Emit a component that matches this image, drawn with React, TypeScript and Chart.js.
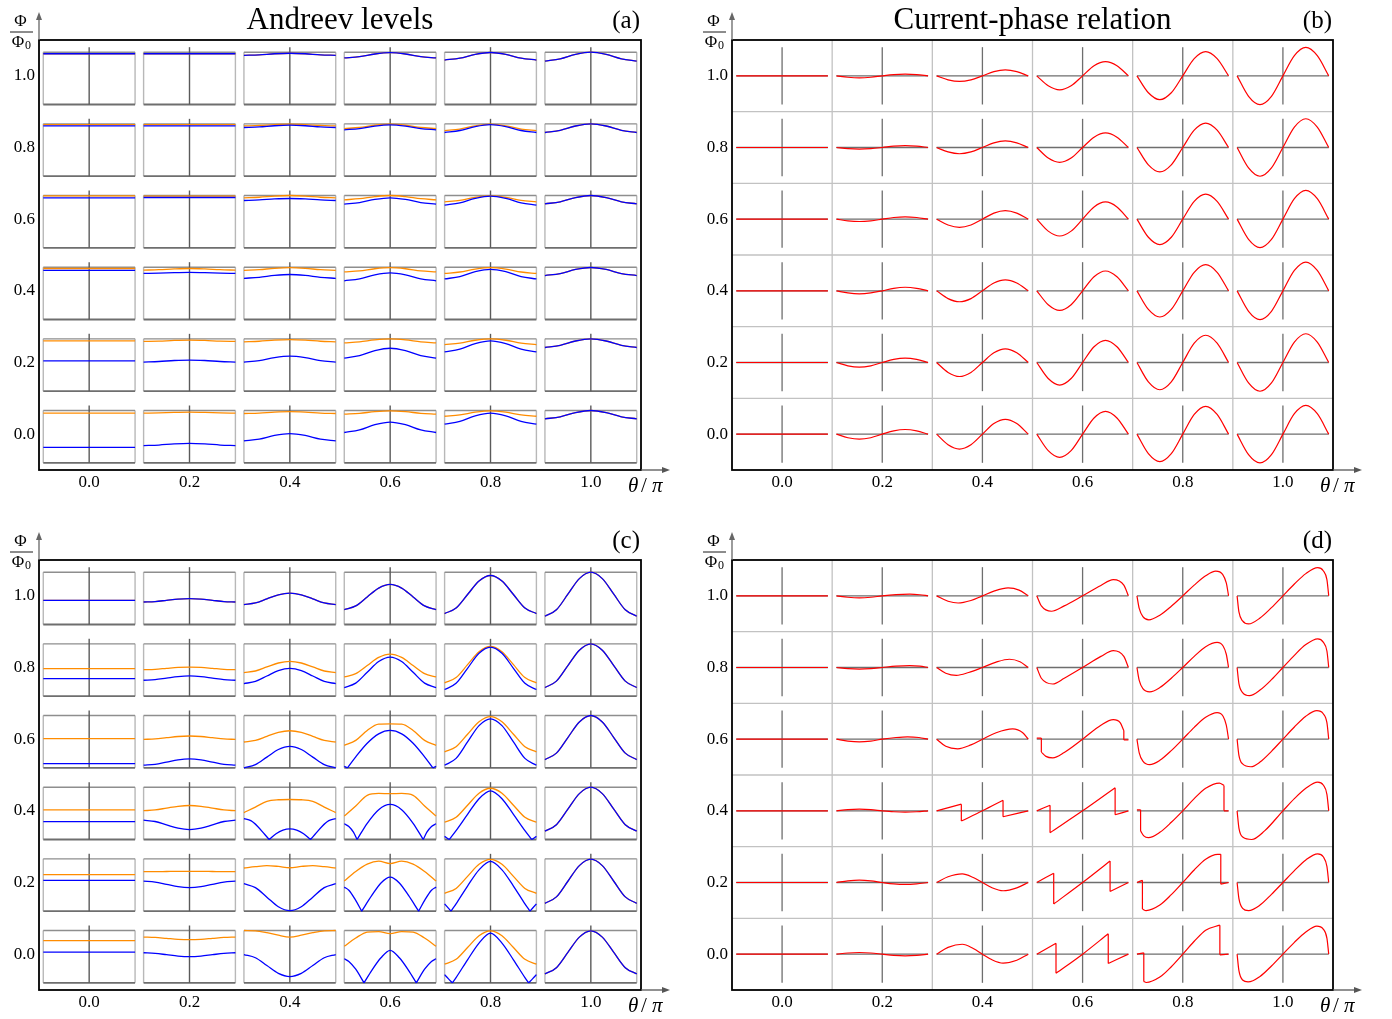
import React, { useEffect, useRef } from 'react';
import { Chart, registerables } from 'chart.js';

Chart.register(...registerables);

// ---------------- data ----------------
const THETA = [0, 0.2, 0.4, 0.6, 0.8, 1.0];          // cell centres, θ/π
const PHI_ROWS = [1.0, 0.8, 0.6, 0.4, 0.2, 0.0];     // cell centres, Φ/Φ0 (top row first)
const TICK_VALUES = [0, 0.2, 0.4, 0.6, 0.8, 1.0];
const GRID_LINES = [0.1, 0.3, 0.5, 0.7, 0.9];
const U7 = [-1, -2 / 3, -1 / 3, 0, 1 / 3, 2 / 3, 1];  // phase samples across a cell
const U9 = [-1, -0.75, -0.5, -0.25, 0, 0.25, 0.5, 0.75, 1];

// (a) Andreev levels, % of box height, sampled on U7
const A_ORANGE = [
  [[97, 97, 97, 97, 97, 97, 97], [97, 97, 97, 97, 97, 97, 97], [94, 95, 97, 98, 97, 95, 94], [89, 91.5, 96.5, 99, 96.5, 91.5, 89], [85, 88.6, 95.8, 99.4, 95.8, 88.6, 85], [83, 87.3, 95.8, 100, 95.8, 87.3, 83]],
  [[98.7, 98.7, 98.7, 98.7, 98.7, 98.7, 98.7], [98.7, 98.7, 98.7, 98.7, 98.7, 98.7, 98.7], [96, 96.9, 98.6, 99.4, 98.6, 96.9, 96], [91, 93.1, 97.3, 99.4, 97.3, 93.1, 91], [87, 90.1, 96.3, 99.4, 96.3, 90.1, 87], [83.5, 87.6, 95.9, 100, 95.9, 87.6, 83.5]],
  [[99.5, 99.5, 99.5, 99.5, 99.5, 99.5, 99.5], [98.7, 98.7, 98.7, 98.7, 98.7, 98.7, 98.7], [95.6, 96.7, 98.9, 100, 98.9, 96.7, 95.6], [91.8, 93.9, 97.9, 100, 97.9, 93.9, 91.8], [88, 90.9, 96.6, 99.4, 96.6, 90.9, 88], [84, 88, 96, 100, 96, 88, 84]],
  [[97.5, 97.5, 97.5, 97.5, 97.5, 97.5, 97.5], [94.4, 95.2, 96.7, 97.5, 96.7, 95.2, 94.4], [94, 95.3, 97.8, 99, 97.8, 95.3, 94], [91, 93, 97, 99, 97, 93, 91], [88, 90.8, 96.3, 99, 96.3, 90.8, 88], [84, 87.9, 95.6, 99.4, 95.6, 87.9, 84]],
  [[96, 96, 96, 96, 96, 96, 96], [95, 95.6, 96.9, 97.5, 96.9, 95.6, 95], [94.3, 95.4, 97.6, 98.7, 97.6, 95.4, 94.3], [92.4, 94.3, 98.1, 100, 98.1, 94.3, 92.4], [89, 91.8, 97.3, 100, 97.3, 91.8, 89], [83.5, 87.6, 95.9, 100, 95.9, 87.6, 83.5]],
  [[95, 95, 95, 95, 95, 95, 95], [95, 95.5, 96.5, 97, 96.5, 95.5, 95], [94.3, 95.2, 97.1, 98, 97.1, 95.2, 94.3], [93, 94.6, 97.8, 99.4, 97.8, 94.6, 93], [89, 91.6, 96.8, 99.4, 96.8, 91.6, 89], [84, 88, 96, 100, 96, 88, 84]],
];
const A_BLUE = [
  [[97, 97, 97, 97, 97, 97, 97], [97, 97, 97, 97, 97, 97, 97], [94, 95, 97, 98, 97, 95, 94], [89, 91.5, 96.5, 99, 96.5, 91.5, 89], [85, 88.6, 95.8, 99.4, 95.8, 88.6, 85], [83, 87.3, 95.8, 100, 95.8, 87.3, 83]],
  [[96, 96, 96, 96, 96, 96, 96], [96, 96, 96, 96, 96, 96, 96], [93, 94.1, 96.4, 97.5, 96.4, 94.1, 93], [88.6, 91, 95.7, 98, 95.7, 91, 88.6], [83.5, 87.3, 94.9, 98.7, 94.9, 87.3, 83.5], [83.5, 87.6, 95.9, 100, 95.9, 87.6, 83.5]],
  [[95.6, 95.6, 95.6, 95.6, 95.6, 95.6, 95.6], [96.2, 96.2, 96.2, 96.2, 96.2, 96.2, 96.2], [90.5, 91.5, 93.4, 94.3, 93.4, 91.5, 90.5], [83.5, 86.5, 92.6, 95.6, 92.6, 86.5, 83.5], [81.6, 85.9, 94.4, 98.7, 94.4, 85.9, 81.6], [84, 88, 96, 100, 96, 88, 84]],
  [[93.8, 93.8, 93.8, 93.8, 93.8, 93.8, 93.8], [88, 88.5, 89.5, 90, 89.5, 88.5, 88], [78.8, 80.6, 84.2, 86, 84.2, 80.6, 78.8], [74, 77.8, 85.3, 89, 85.3, 77.8, 74], [77.5, 82.1, 91.4, 96, 91.4, 82.1, 77.5], [84, 87.9, 95.6, 99.4, 95.6, 87.9, 84]],
  [[58, 58, 58, 58, 58, 58, 58], [55.7, 56.7, 58.6, 59.5, 58.6, 56.7, 55.7], [55.7, 58.5, 64.2, 67, 64.2, 58.5, 55.7], [63, 67.8, 77.3, 82, 77.3, 67.8, 63], [75, 80.3, 90.8, 96, 90.8, 80.3, 75], [83.5, 87.6, 95.9, 100, 95.9, 87.6, 83.5]],
  [[29.7, 29.7, 29.7, 29.7, 29.7, 29.7, 29.7], [32.9, 34, 36.2, 37.3, 36.2, 34, 32.9], [42, 45.4, 52.3, 55.7, 52.3, 45.4, 42], [58, 63, 72.9, 77.8, 72.9, 63, 58], [74, 79.3, 89.8, 95, 89.8, 79.3, 74], [84, 88, 96, 100, 96, 88, 84]],
];

// (c) Andreev levels, % of box height, on U9 or as [u, value, corner?] pairs
const C_ORANGE = [
  [[46, 46, 46, 46, 46, 46, 46, 46, 46], [43, 43.9, 46.2, 48.5, 49.4, 48.5, 46.2, 43.9, 43], [38, 41.2, 49, 56.8, 60, 56.8, 49, 41.2, 38], [28.5, 35.5, 52.6, 69.6, 76.6, 69.6, 52.6, 35.5, 28.5], [20.9, 31.5, 57.3, 83.1, 93.7, 83.1, 57.3, 31.5, 20.9], [15.8, 28.1, 57.9, 87.7, 100, 87.7, 57.9, 28.1, 15.8]],
  [[52.5, 52.5, 52.5, 52.5, 52.5, 52.5, 52.5, 52.5, 52.5], [50.6, 51.3, 53.2, 55, 55.7, 55, 53.2, 51.3, 50.6], [45, 48.1, 55.8, 63.4, 66.5, 63.4, 55.8, 48.1, 45], [36.7, 43.1, 58.6, 74, 80.4, 74, 58.6, 43.1, 36.7], [25.3, 35.5, 60.2, 84.8, 95, 84.8, 60.2, 35.5, 25.3], [16.5, 28.7, 58.3, 87.8, 100, 87.8, 58.3, 28.7, 16.5]],
  [[55.7, 55.7, 55.7, 55.7, 55.7, 55.7, 55.7, 55.7, 55.7], [54.4, 55.3, 57.6, 59.9, 60.8, 59.9, 57.6, 55.3, 54.4], [49.4, 52.5, 60.2, 67.8, 70.9, 67.8, 60.2, 52.5, 49.4], [43, 52.5, 71.5, 83.5, 84, 83.5, 71.5, 52.5, 43], [30.4, 40.3, 64.2, 88.1, 98, 88.1, 64.2, 40.3, 30.4], [15.8, 28.1, 57.9, 87.7, 100, 87.7, 57.9, 28.1, 15.8]],
  [[56.5, 56.5, 56.5, 56.5, 56.5, 56.5, 56.5, 56.5, 56.5], [55, 56.5, 60, 63.5, 65, 63.5, 60, 56.5, 55], [51.5, 62, 73, 76, 76.5, 76, 73, 62, 51.5], [44.7, 64, 84.5, 88, 87.6, 88, 84.5, 64, 44.7], [33, 42.5, 65.5, 88.5, 98, 88.5, 65.5, 42.5, 33], [16, 28.3, 58, 87.7, 100, 87.7, 58, 28.3, 16]],
  [[70, 70, 70, 70, 70, 70, 70, 70, 70], [75.5, 75.6, 75.8, 76, 76, 76, 75.8, 75.6, 75.5], [82.5, 85, 87, 85.5, 83, 85.5, 87, 85, 82.5], [57.5, 76, 90, 95.5, 91, 95.5, 90, 76, 57.5], [34, 43.5, 66.5, 89.5, 99, 89.5, 66.5, 43.5, 34], [15, 27.3, 57.2, 87.1, 99.4, 87.1, 57.2, 27.3, 15]],
  [[80.6, 80.6, 80.6, 80.6, 80.6, 80.6, 80.6, 80.6, 80.6], [87.5, 86.8, 85, 83.2, 82.5, 83.2, 85, 86.8, 87.5], [100, 99.5, 96, 91, 87.5, 91, 96, 99.5, 100], [70, 85.6, 97, 98, 94, 98, 97, 85.6, 70], [35.6, 44.9, 67.5, 90.1, 99.4, 90.1, 67.5, 44.9, 35.6], [17, 29, 58.2, 87.4, 99.4, 87.4, 58.2, 29, 17]],
];
const C_BLUE = [
  [[46, 46, 46, 46, 46, 46, 46, 46, 46], [43, 43.9, 46.2, 48.5, 49.4, 48.5, 46.2, 43.9, 43], [38, 41.2, 49, 56.8, 60, 56.8, 49, 41.2, 38], [28.5, 35.5, 52.6, 69.6, 76.6, 69.6, 52.6, 35.5, 28.5], [20.9, 31.5, 57.3, 83.1, 93.7, 83.1, 57.3, 31.5, 20.9], [15.8, 28.1, 57.9, 87.7, 100, 87.7, 57.9, 28.1, 15.8]],
  [[33.5, 33.5, 33.5, 33.5, 33.5, 33.5, 33.5, 33.5, 33.5], [30.4, 31.6, 34.5, 37.4, 38.6, 37.4, 34.5, 31.6, 30.4], [24, 28.2, 38.5, 48.8, 53, 48.8, 38.5, 28.2, 24], [16.5, 25, 45.6, 66.2, 74.7, 66.2, 45.6, 25, 16.5], [12.7, 24.5, 53.2, 81.9, 93.7, 81.9, 53.2, 24.5, 12.7], [16.5, 28.7, 58.3, 87.8, 100, 87.8, 58.3, 28.7, 16.5]],
  [[8.2, 8.2, 8.2, 8.2, 8.2, 8.2, 8.2, 8.2, 8.2], [5, 6.8, 11, 15.2, 17, 15.2, 11, 6.8, 5], [0, 6, 20.5, 35, 41, 35, 20.5, 6, 0],
    [[-1, 3], [-0.93, 0, 1], [-0.75, 21], [-0.5, 47], [-0.25, 65], [0, 71.5], [0.25, 65], [0.5, 47], [0.75, 21], [0.93, 0, 1], [1, 3]],
    [5, 18, 49.4, 80.7, 93.7, 80.7, 49.4, 18, 5], [15.8, 28.1, 57.9, 87.7, 100, 87.7, 57.9, 28.1, 15.8]],
  [[34, 34, 34, 34, 34, 34, 34, 34, 34], [37, 34.4, 28, 21.6, 19, 21.6, 28, 34.4, 37],
    [[-1, 40], [-0.85, 36], [-0.7, 25], [-0.55, 10], [-0.45, 0, 1], [-0.3, 11], [-0.15, 18], [0, 20.5], [0.15, 18], [0.3, 11], [0.45, 0, 1], [0.55, 10], [0.7, 25], [0.85, 36], [1, 40]],
    [[-1, 30], [-0.9, 25], [-0.8, 14], [-0.72, 0, 1], [-0.5, 31], [-0.25, 57], [0, 67], [0.25, 57], [0.5, 31], [0.72, 0, 1], [0.8, 14], [0.9, 25], [1, 30]],
    [[-1, 6], [-0.9, 0, 1], [-0.75, 17], [-0.5, 48], [-0.25, 78], [0, 93], [0.25, 78], [0.5, 48], [0.75, 17], [0.9, 0, 1], [1, 6]],
    [16, 28.3, 58, 87.7, 100, 87.7, 58, 28.3, 16]],
  [[59, 59, 59, 59, 59, 59, 59, 59, 59], [57.5, 55.7, 51.3, 46.8, 45, 46.8, 51.3, 55.7, 57.5], [52.5, 45, 26.8, 8.5, 1, 8.5, 26.8, 45, 52.5],
    [[-1, 46], [-0.9, 40], [-0.76, 22], [-0.62, 0, 1], [-0.4, 30], [-0.2, 54], [0, 65], [0.2, 54], [0.4, 30], [0.62, 0, 1], [0.76, 22], [0.9, 40], [1, 46]],
    [[-1, 14], [-0.86, 0, 1], [-0.75, 14], [-0.5, 48], [-0.25, 79], [0, 95], [0.25, 79], [0.5, 48], [0.75, 14], [0.86, 0, 1], [1, 14]],
    [15, 27.3, 57.2, 87.1, 99.4, 87.1, 57.2, 27.3, 15]],
  [[58.8, 58.8, 58.8, 58.8, 58.8, 58.8, 58.8, 58.8, 58.8], [57.5, 56.4, 53.8, 51.1, 50, 51.1, 53.8, 56.4, 57.5], [54, 47.9, 33, 18.1, 12, 18.1, 33, 47.9, 54],
    [[-1, 46], [-0.9, 41], [-0.75, 26], [-0.57, 0, 1], [-0.4, 24], [-0.2, 48], [0, 62], [0.2, 48], [0.4, 24], [0.57, 0, 1], [0.75, 26], [0.9, 41], [1, 46]],
    [[-1, 15.6], [-0.92, 8], [-0.83, 0, 1], [-0.75, 10], [-0.5, 44], [-0.25, 76], [0, 95], [0.25, 76], [0.5, 44], [0.75, 10], [0.83, 0, 1], [0.92, 8], [1, 15.6]],
    [17, 29, 58.2, 87.4, 99.4, 87.4, 58.2, 29, 17]],
];

// (b) current-phase relation, in units of 0.01 Φ0, sampled on U9
const B_CURRENT = [
  [[0, 0, 0, 0, 0, 0, 0, 0, 0], [0, -0.39, -0.55, -0.39, 0, 0.33, 0.46, 0.33, 0], [0, -1.11, -1.57, -1.11, 0, 1.18, 1.66, 1.18, 0], [0, -2.77, -3.9, -2.77, 0, 2.82, 3.97, 2.82, 0], [0, -4.72, -6.65, -4.72, 0, 4.79, 6.74, 4.79, 0], [0, -5.7, -8.03, -5.7, 0, 5.64, 7.94, 5.64, 0]],
  [[0, 0, 0, 0, 0, 0, 0, 0, 0], [0, -0.33, -0.46, -0.33, 0, 0.39, 0.55, 0.39, 0], [0, -1.24, -1.75, -1.24, 0, 1.31, 1.85, 1.31, 0], [0, -2.95, -4.15, -2.95, 0, 2.88, 4.06, 2.88, 0], [0, -4.85, -6.83, -4.85, 0, 4.85, 6.83, 4.85, 0], [0, -5.7, -8.03, -5.7, 0, 5.7, 8.03, 5.7, 0]],
  [[0, 0, 0, 0, 0, 0, 0, 0, 0], [0, -0.46, -0.65, -0.46, 0, 0.46, 0.65, 0.46, 0], [0, -1.63, -2.3, -1.63, 0, 1.7, 2.4, 1.7, 0], [0, -3.34, -4.7, -3.34, 0, 3.41, 4.8, 3.41, 0], [0, -5.04, -7.1, -5.04, 0, 4.97, 7.0, 4.97, 0], [0, -5.64, -7.94, -5.64, 0, 5.7, 8.03, 5.7, 0]],
  [[0, 0, 0, 0, 0, 0, 0, 0, 0], [0, -0.59, -0.83, -0.59, 0, 0.71, 1.0, 0.71, 0], [0, -2.17, -3.05, -2.17, 0, 2.17, 3.05, 2.17, 0], [0, -3.87, -5.45, -3.87, 0, 3.93, 5.54, 3.93, 0], [0, -5.18, -7.3, -5.18, 0, 5.18, 7.3, 5.18, 0], [0, -5.7, -8.03, -5.7, 0, 5.7, 8.03, 5.7, 0]],
  [[0, 0, 0, 0, 0, 0, 0, 0, 0], [0, -0.92, -1.3, -0.92, 0, 0.85, 1.2, 0.85, 0], [0, -2.77, -3.9, -2.77, 0, 2.7, 3.8, 2.7, 0], [0, -4.47, -6.3, -4.47, 0, 4.4, 6.2, 4.4, 0], [0, -5.4, -7.6, -5.4, 0, 5.4, 7.6, 5.4, 0], [0, -5.7, -8.03, -5.7, 0, 5.7, 8.03, 5.7, 0]],
  [[0, 0, 0, 0, 0, 0, 0, 0, 0], [0, -0.99, -1.4, -0.99, 0, 0.92, 1.3, 0.92, 0], [0, -2.95, -4.15, -2.95, 0, 2.95, 4.15, 2.95, 0], [0, -4.59, -6.46, -4.59, 0, 4.52, 6.37, 4.52, 0], [0, -5.44, -7.66, -5.44, 0, 5.51, 7.76, 5.51, 0], [0, -5.7, -8.03, -5.7, 0, 5.7, 8.03, 5.7, 0]],
];

// (d) current-phase relation, [u, 0.01 Φ0] pairs (equal u = jump)
const D_CURRENT = [
  [[[-1, 0], [1, 0]],
    [[-1, 0], [-0.75, -0.39], [-0.5, -0.55], [-0.25, -0.39], [0, 0], [0.3, 0.33], [0.6, 0.46], [0.82, 0.3], [1, 0]],
    [[-1, 0], [-0.75, -1.5], [-0.53, -2.0], [-0.25, -1.3], [0, 0], [0.25, 1.3], [0.56, 2.2], [0.8, 1.6], [1, 0]],
    [[-1, 0], [-0.9, -2.8], [-0.68, -4.3], [-0.4, -2.8], [0, 0], [0.4, 2.9], [0.67, 4.5], [0.9, 3.0], [1, 0]],
    [[-1, 0], [-0.95, -3.5], [-0.87, -5.8], [-0.74, -6.7], [-0.5, -5.4], [-0.25, -2.9], [0, 0], [0.25, 3.0], [0.5, 5.6], [0.72, 6.9], [0.87, 6.0], [0.95, 3.6], [1, 0]],
    [[-1, 0], [-0.96, -4.5], [-0.88, -7.0], [-0.75, -7.85], [-0.5, -6.2], [-0.25, -3.3], [0, 0], [0.25, 3.3], [0.5, 6.2], [0.76, 7.85], [0.88, 7.0], [0.96, 4.5], [1, 0]]],
  [[[-1, 0], [1, 0]],
    [[-1, 0], [-0.75, -0.33], [-0.5, -0.46], [-0.25, -0.33], [0, 0], [0.3, 0.39], [0.6, 0.55], [0.82, 0.39], [1, 0]],
    [[-1, 0], [-0.8, -1.6], [-0.57, -2.2], [-0.3, -1.4], [0, 0], [0.3, 1.5], [0.59, 2.3], [0.82, 1.6], [1, 0]],
    [[-1, 0], [-0.9, -3.0], [-0.65, -4.6], [-0.4, -3.0], [0, 0], [0.4, 3.1], [0.67, 4.7], [0.9, 3.1], [1, 0]],
    [[-1, 0], [-0.95, -3.6], [-0.87, -5.9], [-0.72, -6.8], [-0.5, -5.6], [-0.25, -3.0], [0, 0], [0.25, 3.1], [0.5, 5.8], [0.75, 7.0], [0.88, 6.0], [0.95, 3.7], [1, 0]],
    [[-1, 0], [-0.96, -4.5], [-0.88, -7.0], [-0.73, -7.85], [-0.5, -6.3], [-0.25, -3.4], [0, 0], [0.25, 3.4], [0.5, 6.4], [0.76, 8.0], [0.88, 7.1], [0.96, 4.6], [1, 0]]],
  [[[-1, 0], [1, 0]],
    [[-1, 0], [-0.75, -0.52], [-0.5, -0.74], [-0.25, -0.52], [0, 0], [0.3, 0.46], [0.55, 0.65], [0.8, 0.46], [1, 0]],
    [[-1, 0], [-0.8, -2.0], [-0.54, -2.7], [-0.25, -1.6], [0, 0], [0.3, 1.8], [0.66, 2.86], [0.88, 1.8], [1, 0]],
    [[-1, 0.3], [-0.9, 0.3], [-0.9, -3.6], [-0.8, -4.8], [-0.65, -5.2], [-0.4, -3.7], [0, 0], [0.4, 3.9], [0.67, 5.45], [0.82, 4.6], [0.9, 2.4], [0.9, -0.2], [1, -0.2]],
    [[-1, 0], [-0.95, -3.8], [-0.87, -6.1], [-0.72, -7.1], [-0.5, -5.9], [-0.25, -3.2], [0, 0], [0.25, 3.3], [0.5, 6.1], [0.75, 7.4], [0.88, 6.4], [0.95, 3.9], [1, 0]],
    [[-1, 0], [-0.96, -4.5], [-0.88, -6.9], [-0.7, -7.7], [-0.5, -6.4], [-0.25, -3.4], [0, 0], [0.25, 3.4], [0.5, 6.4], [0.74, 7.94], [0.88, 7.1], [0.96, 4.6], [1, 0]]],
  [[[-1, 0], [1, 0]],
    [[-1, 0], [-0.75, 0.33], [-0.5, 0.46], [-0.25, 0.33], [0, 0], [0.25, -0.26], [0.5, -0.37], [0.75, -0.26], [1, 0]],
    [[-1, 0], [-0.46, 1.85], [-0.46, -2.86], [0, 0], [0.45, 2.95], [0.45, -1.66], [1, 0]],
    [[-1, 0], [-0.71, 1.57], [-0.71, -6.1], [0, 0], [0.71, 6.46], [0.71, -1.1], [1, 0]],
    [[-1, 0.28], [-0.92, 0.28], [-0.92, -5.6], [-0.85, -7.0], [-0.75, -7.5], [-0.5, -6.0], [-0.25, -3.2], [0, 0], [0.25, 3.4], [0.5, 6.3], [0.8, 7.76], [0.9, 7.1], [0.9, 0], [1, 0]],
    [[-1, 0], [-0.96, -4.8], [-0.87, -7.4], [-0.68, -8.0], [-0.4, -5.6], [0, 0], [0.25, 3.4], [0.5, 6.3], [0.76, 8.0], [0.88, 7.2], [0.96, 4.6], [1, 0]]],
  [[[-1, 0], [1, 0]],
    [[-1, 0], [-0.75, 0.46], [-0.5, 0.65], [-0.25, 0.46], [0, 0], [0.25, -0.39], [0.5, -0.55], [0.75, -0.39], [1, 0]],
    [[-1, 0], [-0.75, 1.6], [-0.44, 2.4], [-0.2, 1.4], [0, 0], [0.2, -1.4], [0.45, -2.3], [0.75, -1.5], [1, 0]],
    [[-1, 0], [-0.63, 2.6], [-0.63, -6.0], [0, 0], [0.6, 6.0], [0.6, -2.5], [1, 0]],
    [[-1, 0], [-0.88, 0.6], [-0.88, -7.4], [-0.8, -7.85], [-0.5, -6.3], [-0.25, -3.4], [0, 0], [0.25, 3.5], [0.5, 6.5], [0.76, 7.85], [0.83, 7.85], [0.83, -0.46], [1, 0]],
    [[-1, 0], [-0.96, -4.5], [-0.88, -7.2], [-0.75, -7.85], [-0.5, -6.3], [-0.25, -3.3], [0, 0], [0.25, 3.3], [0.5, 6.3], [0.76, 8.0], [0.88, 7.2], [0.96, 4.5], [1, 0]]],
  [[[-1, 0], [1, 0]],
    [[-1, 0], [-0.75, 0.33], [-0.5, 0.46], [-0.25, 0.33], [0, 0], [0.25, -0.33], [0.5, -0.46], [0.75, -0.33], [1, 0]],
    [[-1, 0], [-0.75, 1.9], [-0.44, 2.77], [-0.2, 1.6], [0, 0], [0.2, -1.5], [0.45, -2.5], [0.75, -1.7], [1, 0]],
    [[-1, 0], [-0.58, 3.05], [-0.58, -5.35], [0, 0], [0.56, 5.7], [0.56, -2.6], [1, 0]],
    [[-1, 0], [-0.85, 0.37], [-0.85, -7.6], [-0.8, -7.9], [-0.5, -6.4], [-0.25, -3.5], [0, 0], [0.25, 3.6], [0.5, 6.7], [0.81, 8.1], [0.81, -0.18], [1, 0]],
    [[-1, 0], [-0.96, -4.6], [-0.88, -7.2], [-0.76, -7.75], [-0.5, -6.2], [-0.25, -3.3], [0, 0], [0.25, 3.3], [0.5, 6.2], [0.74, 7.85], [0.88, 7.0], [0.96, 4.5], [1, 0]]],
];

// ---------------- styling / geometry ----------------
const SERIF = '"Liberation Serif", "DejaVu Serif", serif';
const ORANGE = '#ff8c00';
const BLUE = '#0000ff';
const RED = '#ff0000';
const HW = 0.0915;      // half width of a cell (θ units)
const BOX_BOT = -0.08;  // box bottom relative to Φ centre
const BOX_TOP = 0.066;  // box top relative to Φ centre
const VLINE = 0.08;     // half length of the centre marker line

const mapBox = (phi: number, f: number) => phi + BOX_BOT + ((BOX_TOP - BOX_BOT) * f) / 100;
const mapCur = (phi: number, v: number) => phi + v / 100;

function toPairs(curve: any[], grid: number[]): number[][] {
  return typeof curve[0] === 'number' ? curve.map((v: number, i: number) => [grid[i], v]) : curve;
}

function splitSegments(pts: number[][]): number[][][] {
  const segs: number[][][] = [];
  let cur: number[][] = [];
  for (let i = 0; i < pts.length; i++) {
    const p = pts[i];
    const n = pts[i + 1];
    cur.push(p);
    if (n && n[0] === p[0]) {
      if (cur.length > 1) segs.push(cur);
      segs.push([p, n]);
      cur = [];
    } else if (p[2] && n && cur.length > 1) {
      segs.push(cur);
      cur = [p];
    }
  }
  if (cur.length > 1) segs.push(cur);
  return segs;
}

function buildData(curve: any[], grid: number[], theta: number, phi: number, mapV: (p: number, v: number) => number) {
  const segs = splitSegments(toPairs(curve, grid));
  const out: { x: number; y: number | null }[] = [];
  segs.forEach((seg, k) => {
    if (k > 0) out.push({ x: theta + seg[0][0] * HW, y: null });
    seg.forEach((p) => out.push({ x: theta + p[0] * HW, y: mapV(phi, p[1]) }));
  });
  return out;
}

function lineDs(data: any[], color: string, width = 1.3) {
  return {
    data,
    borderColor: color,
    borderWidth: width,
    pointRadius: 0,
    fill: false,
    spanGaps: false,
    cubicInterpolationMode: 'monotone',
  };
}

// Chart.js paints dataset 0 last (on top): blue first so it covers orange
function levelDatasets(orange: any[][], blue: any[][], grid: number[]) {
  const ds: any[] = [];
  PHI_ROWS.forEach((phi, r) =>
    THETA.forEach((th, c) => {
      ds.push(lineDs(buildData(blue[r][c], grid, th, phi, mapBox), BLUE));
      ds.push(lineDs(buildData(orange[r][c], grid, th, phi, mapBox), ORANGE));
    })
  );
  return ds;
}

function currentDatasets(cur: any[][], grid: number[]) {
  const ds: any[] = [];
  PHI_ROWS.forEach((phi, r) =>
    THETA.forEach((th, c) => {
      ds.push(lineDs(buildData(cur[r][c], grid, th, phi, mapCur), RED, 1.2));
    })
  );
  return ds;
}

function decorPlugin(boxed: boolean, title: string | null, tag: string) {
  const seg = (ctx: any, x1: number, y1: number, x2: number, y2: number, color: string, w: number) => {
    ctx.beginPath();
    ctx.strokeStyle = color;
    ctx.lineWidth = w;
    ctx.moveTo(x1, y1);
    ctx.lineTo(x2, y2);
    ctx.stroke();
  };
  return {
    id: 'decor',
    beforeDatasetsDraw(chart: any) {
      const { ctx, chartArea: ca, scales } = chart;
      const X = (v: number) => scales.x.getPixelForValue(v);
      const Y = (v: number) => scales.y.getPixelForValue(v);
      ctx.save();
      if (boxed) {
        PHI_ROWS.forEach((phi) =>
          THETA.forEach((th) => {
            const l = X(th - HW), r = X(th + HW), t = Y(phi + BOX_TOP), b = Y(phi + BOX_BOT);
            seg(ctx, l, t, l, b, '#b8b8b8', 1.4);
            seg(ctx, r, t, r, b, '#b8b8b8', 1.4);
            seg(ctx, l, t, r, t, '#8e8e8e', 1.4);
            seg(ctx, l, b, r, b, '#6e6e6e', 1.8);
            seg(ctx, X(th), Y(phi - VLINE), X(th), Y(phi + VLINE), '#5a5a5a', 1.4);
          })
        );
      } else {
        GRID_LINES.forEach((g) => {
          seg(ctx, X(g), ca.top, X(g), ca.bottom, '#c2c2c2', 1.3);
          seg(ctx, ca.left, Y(g), ca.right, Y(g), '#c2c2c2', 1.3);
        });
        PHI_ROWS.forEach((phi) =>
          THETA.forEach((th) => {
            seg(ctx, X(th - HW), Y(phi), X(th + HW), Y(phi), '#6e6e6e', 1.3);
            seg(ctx, X(th), Y(phi - VLINE), X(th), Y(phi + VLINE), '#6e6e6e', 1.3);
          })
        );
      }
      ctx.restore();
    },
    afterDatasetsDraw(chart: any) {
      const { ctx, chartArea: ca } = chart;
      ctx.save();
      // frame
      ctx.strokeStyle = '#000';
      ctx.lineWidth = 1.8;
      ctx.strokeRect(ca.left, ca.top, ca.right - ca.left, ca.bottom - ca.top);
      // axis arrows
      seg(ctx, ca.left, ca.top, ca.left, ca.top - 22, '#666', 1.3);
      ctx.fillStyle = '#666';
      ctx.beginPath();
      ctx.moveTo(ca.left, ca.top - 28);
      ctx.lineTo(ca.left - 3, ca.top - 20);
      ctx.lineTo(ca.left + 3, ca.top - 20);
      ctx.closePath();
      ctx.fill();
      seg(ctx, ca.right, ca.bottom, ca.right + 22, ca.bottom, '#555', 1.3);
      ctx.fillStyle = '#555';
      ctx.beginPath();
      ctx.moveTo(ca.right + 29, ca.bottom);
      ctx.lineTo(ca.right + 21, ca.bottom - 3);
      ctx.lineTo(ca.right + 21, ca.bottom + 3);
      ctx.closePath();
      ctx.fill();
      // y label Φ/Φ0
      ctx.fillStyle = '#000';
      ctx.textAlign = 'center';
      ctx.textBaseline = 'alphabetic';
      ctx.font = `17px ${SERIF}`;
      ctx.fillText('Φ', ca.left - 18.5, ca.top - 14);
      ctx.fillText('Φ', ca.left - 21, ca.top + 7);
      ctx.font = `12px ${SERIF}`;
      ctx.fillText('0', ca.left - 11, ca.top + 9);
      seg(ctx, ca.left - 29, ca.top - 8, ca.left - 6, ca.top - 8, '#000', 0.9);
      // x label θ/π
      ctx.textAlign = 'left';
      ctx.font = `italic 21px ${SERIF}`;
      ctx.fillText('θ', ca.right - 13, ca.bottom + 22);
      ctx.font = `21px ${SERIF}`;
      ctx.fillText('/', ca.right, ca.bottom + 22);
      ctx.font = `italic 21px ${SERIF}`;
      ctx.fillText('π', ca.right + 11, ca.bottom + 22);
      // title and tag
      ctx.textBaseline = 'middle';
      if (title) {
        ctx.textAlign = 'center';
        ctx.font = `31px ${SERIF}`;
        ctx.fillText(title, (ca.left + ca.right) / 2, ca.top - 19);
      }
      ctx.textAlign = 'right';
      ctx.font = `25px ${SERIF}`;
      ctx.fillText(tag, ca.right - 1, ca.top - 19);
      ctx.restore();
    },
  };
}

function axis(which: 'x' | 'y', size: number) {
  return {
    type: 'linear',
    min: -0.1,
    max: 1.1,
    grid: { display: false, drawTicks: false },
    border: { display: false },
    ticks: {
      autoSkip: false,
      maxRotation: 0,
      padding: which === 'x' ? 2 : 4,
      color: '#000',
      font: { family: SERIF, size: 17 },
      callback: (v: any) => Number(v).toFixed(1),
    },
    afterBuildTicks: (s: any) => {
      s.ticks = TICK_VALUES.map((v) => ({ value: v }));
    },
    afterFit: (s: any) => {
      if (which === 'x') s.height = size;
      else s.width = size;
    },
  };
}

type PanelProps = {
  left: number; top: number; width: number; height: number;
  padRight: number; yWidth: number; xHeight: number;
  datasets: any[]; boxed: boolean; title: string | null; tag: string;
};

function Panel(p: PanelProps) {
  const ref = useRef<HTMLCanvasElement | null>(null);
  useEffect(() => {
    const chart = new Chart(ref.current as HTMLCanvasElement, {
      type: 'line',
      data: { datasets: p.datasets },
      options: {
        responsive: false,
        animation: false,
        events: [],
        layout: { padding: { left: 0, top: 40, right: p.padRight, bottom: 0 } },
        plugins: { legend: { display: false }, tooltip: { enabled: false }, title: { display: false } },
        scales: { x: axis('x', p.xHeight), y: axis('y', p.yWidth) },
      } as any,
      plugins: [decorPlugin(p.boxed, p.title, p.tag)],
    } as any);
    return () => chart.destroy();
  }, []);
  return (
    <canvas
      ref={ref}
      width={p.width}
      height={p.height}
      style={{ position: 'absolute', left: p.left, top: p.top, width: p.width, height: p.height }}
    />
  );
}

export default function App() {
  const dsA = levelDatasets(A_ORANGE, A_BLUE, U7);
  const dsB = currentDatasets(B_CURRENT, U9);
  const dsC = levelDatasets(C_ORANGE, C_BLUE, U9);
  const dsD = currentDatasets(D_CURRENT, U9);
  return (
    <div style={{ position: 'fixed', left: 0, top: 0, width: 1392, height: 1019, overflow: 'hidden', background: '#fff' }}>
      <Panel left={0} top={0} width={692} height={505} padRight={51} yWidth={39} xHeight={35} datasets={dsA} boxed={true} title="Andreev levels" tag="(a)" />
      <Panel left={692} top={0} width={700} height={505} padRight={59} yWidth={40} xHeight={35} datasets={dsB} boxed={false} title="Current-phase relation" tag="(b)" />
      <Panel left={0} top={520} width={692} height={499} padRight={51} yWidth={39} xHeight={29} datasets={dsC} boxed={true} title={null} tag="(c)" />
      <Panel left={692} top={520} width={700} height={499} padRight={59} yWidth={40} xHeight={29} datasets={dsD} boxed={false} title={null} tag="(d)" />
    </div>
  );
}
